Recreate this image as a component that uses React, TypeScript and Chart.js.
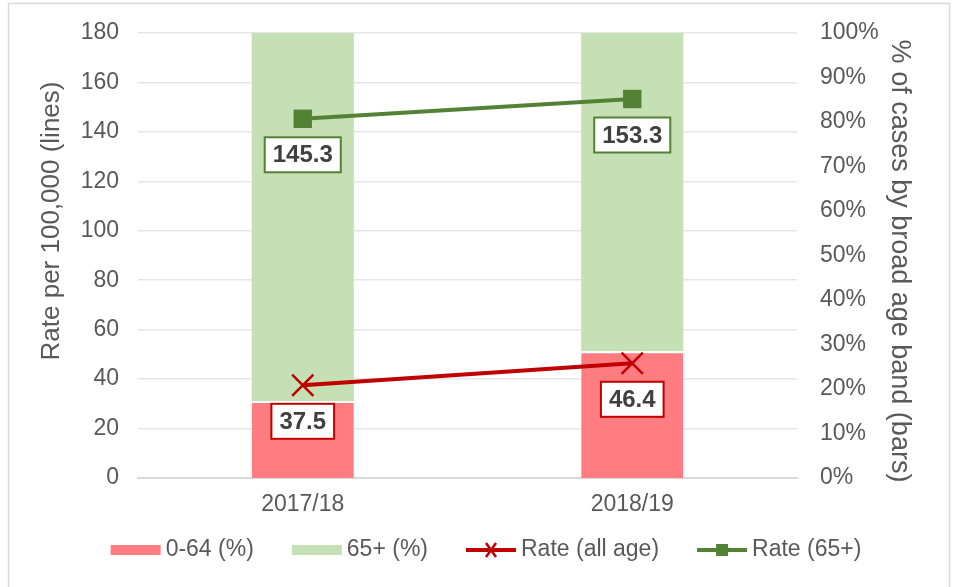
import React, { useEffect, useRef } from "react";
import { Chart, registerables } from "chart.js";

Chart.register(...registerables);

const categories = ["2017/18", "2018/19"];
const pct0to64 = [17.3, 28.5];
const pct65plus = [82.7, 71.5];
const rateAllAge = [37.5, 46.4];
const rate65plus = [145.3, 153.3];
const leftTicksMax = 180;
const leftTicksStep = 20;
const leftTitle = "Rate per 100,000 (lines)";
const rightTitle = "% of cases by broad age band (bars)";

const FONT = "'Liberation Sans', Arial, sans-serif";
const TXT = "#595959";
const RED_BAR = "#ff7c80";
const GREEN_BAR = "#c5e0b4";
const RED_LINE = "#c00000";
const GREEN_LINE = "#548235";

const labelPlugin = {
  id: "boxLabels",
  afterDatasetsDraw(chart: any) {
    const ctx = chart.ctx;
    ctx.save();
    ctx.font = `bold 24px ${FONT}`;
    ctx.textAlign = "center";
    ctx.textBaseline = "middle";
    chart.data.datasets.forEach((ds: any, i: number) => {
      if (ds.type !== "line") return;
      const meta = chart.getDatasetMeta(i);
      meta.data.forEach((pt: any, j: number) => {
        const txt = ds.data[j].toFixed(1);
        const w = ctx.measureText(txt).width + 16;
        const h = 35;
        const cx = pt.x;
        const cy = pt.y + 36;
        ctx.fillStyle = "#ffffff";
        ctx.fillRect(cx - w / 2, cy - h / 2, w, h);
        ctx.strokeStyle = ds.borderColor;
        ctx.lineWidth = 2;
        ctx.strokeRect(cx - w / 2, cy - h / 2, w, h);
        ctx.fillStyle = "#404040";
        ctx.fillText(txt, cx, cy + 1);
      });
    });
    ctx.restore();
  },
};

const framePlugin = {
  id: "frameLegend",
  afterDraw(chart: any) {
    const ctx = chart.ctx;
    ctx.save();
    ctx.strokeStyle = "#d9d9d9";
    ctx.lineWidth = 1.5;
    ctx.strokeRect(8.5, 3.5, 941, 600);

    // axis titles
    ctx.fillStyle = TXT;
    ctx.textAlign = "center";
    ctx.textBaseline = "middle";
    ctx.font = `26px ${FONT}`;
    ctx.save();
    ctx.translate(52, 221);
    ctx.rotate(-Math.PI / 2);
    ctx.fillText(leftTitle, 0, 0);
    ctx.restore();
    ctx.font = `27px ${FONT}`;
    ctx.save();
    ctx.translate(899, 261);
    ctx.rotate(Math.PI / 2);
    ctx.fillText(rightTitle, 0, 0);
    ctx.restore();

    // legend
    ctx.font = `23px ${FONT}`;
    ctx.textBaseline = "middle";
    ctx.textAlign = "left";
    const items = chart.data.datasets.map((ds: any) => ({
      label: ds.label,
      type: ds.type,
      color: ds.type === "line" ? ds.borderColor : ds.backgroundColor,
      style: ds.pointStyle,
    }));
    const symW = 50;
    const gapSym = 5;
    const gapItem = 38;
    const widths = items.map((it: any) => symW + gapSym + ctx.measureText(it.label).width);
    const total = widths.reduce((a: number, b: number) => a + b, 0) + gapItem * (items.length - 1);
    let x = 486 - total / 2;
    const y = 550;
    items.forEach((it: any, k: number) => {
      if (it.type === "line") {
        ctx.strokeStyle = it.color;
        ctx.lineWidth = 4;
        ctx.beginPath();
        ctx.moveTo(x, y);
        ctx.lineTo(x + symW, y);
        ctx.stroke();
        const mx = x + symW / 2;
        if (it.style === "crossRot") {
          ctx.lineWidth = 2.5;
          ctx.beginPath();
          ctx.moveTo(mx - 5, y - 7);
          ctx.lineTo(mx + 5, y + 7);
          ctx.moveTo(mx + 5, y - 7);
          ctx.lineTo(mx - 5, y + 7);
          ctx.stroke();
        } else {
          ctx.fillStyle = it.color;
          ctx.fillRect(mx - 6, y - 6, 12, 12);
        }
      } else {
        ctx.fillStyle = it.color;
        ctx.fillRect(x, y - 5, symW, 10);
      }
      ctx.fillStyle = TXT;
      ctx.fillText(it.label, x + symW + gapSym, y);
      x += widths[k] + gapItem;
    });
    ctx.restore();
  },
};

export default function App() {
  const ref = useRef<HTMLCanvasElement>(null);
  useEffect(() => {
    document.body.style.margin = "0";
    const chart = new Chart(ref.current!, {
      data: {
        labels: categories,
        datasets: [
          {
            type: "bar",
            label: "0-64 (%)",
            data: pct0to64,
            backgroundColor: RED_BAR,
            borderColor: "#ffffff",
            borderWidth: { top: 2, left: 0, right: 0, bottom: 0 },
            borderSkipped: false,
            yAxisID: "yR",
            stack: "s",
            barPercentage: 0.31,
            categoryPercentage: 1,
            order: 3,
          },
          {
            type: "bar",
            label: "65+ (%)",
            data: pct65plus,
            backgroundColor: GREEN_BAR,
            borderWidth: 0,
            yAxisID: "yR",
            stack: "s",
            barPercentage: 0.31,
            categoryPercentage: 1,
            order: 4,
          },
          {
            type: "line",
            label: "Rate (all age)",
            data: rateAllAge,
            borderColor: RED_LINE,
            backgroundColor: RED_LINE,
            borderWidth: 4,
            pointStyle: "crossRot",
            pointRadius: 15,
            pointBorderWidth: 2.5,
            yAxisID: "yL",
            order: 1,
          },
          {
            type: "line",
            label: "Rate (65+)",
            data: rate65plus,
            borderColor: GREEN_LINE,
            backgroundColor: GREEN_LINE,
            borderWidth: 4,
            pointStyle: "rect",
            pointRadius: 13,
            pointBorderWidth: 0,
            yAxisID: "yL",
            order: 2,
          },
        ] as any,
      },
      options: {
        animation: false,
        responsive: false,
        maintainAspectRatio: false,
        layout: { padding: { left: 20, right: 30, top: 33, bottom: 65 } },
        plugins: {
          legend: { display: false },
          tooltip: { enabled: false },
        },
        scales: {
          x: {
            stacked: true,
            grid: { display: false, drawTicks: false },
            border: { color: "#d9d9d9", width: 2 },
            ticks: { color: TXT, font: { family: FONT, size: 23 }, padding: 13 },
            afterFit: (s: any) => { s.height = 44; },
          },
          yL: {
            type: "linear",
            position: "left",
            min: 0,
            max: leftTicksMax,
            ticks: { stepSize: leftTicksStep, color: TXT, font: { family: FONT, size: 23 }, padding: 19 },
            grid: { color: "#e6e6e6", lineWidth: 1.5, drawTicks: false },
            border: { display: false },
            title: { display: false },
            afterFit: (s: any) => { s.width = 118; s.paddingTop = 0; s.paddingBottom = 0; },
          },
          yR: {
            type: "linear",
            position: "right",
            stacked: true,
            min: 0,
            max: 100,
            ticks: {
              stepSize: 10,
              color: TXT,
              font: { family: FONT, size: 23 },
              padding: 23,
              callback: (v: any) => `${v}%`,
            },
            grid: { display: false, drawTicks: false },
            border: { display: false },
            title: { display: false },
            afterFit: (s: any) => { s.width = 126; s.paddingTop = 0; s.paddingBottom = 0; },
          },
        },
      } as any,
      plugins: [labelPlugin, framePlugin],
    });
    return () => chart.destroy();
  }, []);
  return (
    <div style={{ width: 953, height: 587, background: "#fff" }}>
      <canvas ref={ref} width={953} height={587} style={{ display: "block" }} />
    </div>
  );
}
